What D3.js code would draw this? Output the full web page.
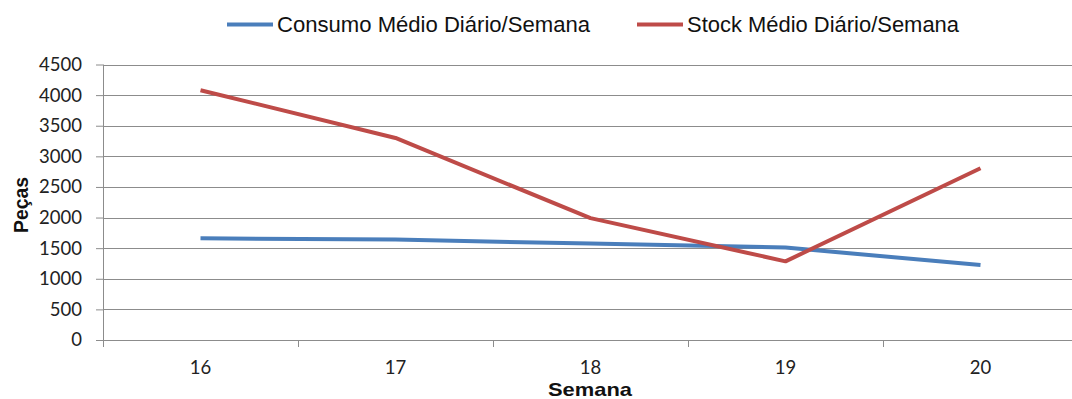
<!DOCTYPE html>
<html><head><meta charset="utf-8">
<script src="https://cdn.jsdelivr.net/npm/d3@7"></script>
<style>body{margin:0;background:#fff}svg{display:block}</style>
</head><body>
<svg id="c" width="1072" height="399"></svg>
<script>
const categories = ["16","17","18","19","20"];
const consumo = [1660, 1640, 1575, 1510, 1225];
const stock = [4080, 3300, 1990, 1285, 2805];
const yTicks = [0,500,1000,1500,2000,2500,3000,3500,4000,4500];
const seriesNames = ["Consumo Médio Diário/Semana","Stock Médio Diário/Semana"];
const colors = ["#4A7EBB","#BE4B48"];

(function(){
const svg = d3.select("#c");
const pL = 103, pR = 1078, pT = 64.5, pB = 340;
const x = d3.scaleBand().domain(categories).range([pL, pR]);
const y = d3.scaleLinear().domain([0,4500]).range([pB, pT]);
const grid = "#8c8c8c";
const tickFont = "Lato, 'Open Sans', sans-serif";

// gridlines + y axis
const ya = svg.append("g").attr("transform",`translate(${pL},0)`)
  .call(d3.axisLeft(y).tickValues(yTicks).tickSize(7).tickPadding(14).tickFormat(d3.format("d")));
ya.select(".domain").attr("stroke", grid).attr("d", `M0.5,${pT}V${pB+7}`);
ya.selectAll(".tick line").attr("stroke", grid);
ya.selectAll(".tick text").attr("font-family", tickFont).attr("font-size", 18.5).attr("fill","#222");
svg.append("g").selectAll("line").data(yTicks).join("line")
  .attr("x1", pL).attr("x2", 1072)
  .attr("y1", d=>Math.round(y(d))+0.5).attr("y2", d=>Math.round(y(d))+0.5)
  .attr("stroke", grid).attr("stroke-width",1);

// x axis
const xa = svg.append("g").attr("transform",`translate(0,${pB})`)
  .call(d3.axisBottom(x).tickSize(0).tickPadding(21));
xa.select(".domain").remove();
xa.selectAll(".tick text").attr("font-family", tickFont).attr("font-size", 18.5).attr("fill","#222");
svg.append("g").selectAll("line").data(categories.slice(1)).join("line")
  .attr("x1", d=>Math.round(x(d))+0.5).attr("x2", d=>Math.round(x(d))+0.5)
  .attr("y1", pB).attr("y2", pB+7).attr("stroke", grid);

// lines
const line = d3.line().x((d,i)=>x(categories[i])+x.bandwidth()/2).y(d=>y(d));
[consumo, stock].forEach((s,i)=>{
  svg.append("path").datum(s).attr("d", line).attr("fill","none")
    .attr("stroke", colors[i]).attr("stroke-width", 4).attr("stroke-linejoin","round");
});

// axis titles
svg.append("text").attr("x", 590).attr("y", 396).attr("text-anchor","middle")
  .attr("font-family","'Liberation Sans', Arial, sans-serif").attr("font-weight","bold")
  .attr("font-size", 19).attr("fill","#111")
  .attr("textLength", 84).attr("lengthAdjust","spacingAndGlyphs").text("Semana");
svg.append("text").attr("transform","translate(28,205) rotate(-90)").attr("text-anchor","middle")
  .attr("font-family","'Liberation Sans', Arial, sans-serif").attr("font-weight","bold")
  .attr("font-size", 20).attr("fill","#111")
  .attr("textLength", 56).attr("lengthAdjust","spacingAndGlyphs").text("Peças");

// legend
const legX = [227, 637];
const legW = [313, 272];
seriesNames.forEach((n,i)=>{
  svg.append("line").attr("x1", legX[i]).attr("x2", legX[i]+46).attr("y1",24.5).attr("y2",24.5)
    .attr("stroke", colors[i]).attr("stroke-width",4);
  svg.append("text").attr("x", legX[i]+50).attr("y", 32)
    .attr("font-family","'Liberation Sans', Arial, sans-serif")
    .attr("font-size", 22).attr("fill","#111")
    .attr("textLength", legW[i]).attr("lengthAdjust","spacingAndGlyphs").text(n);
});
})();
</script>
</body></html>
